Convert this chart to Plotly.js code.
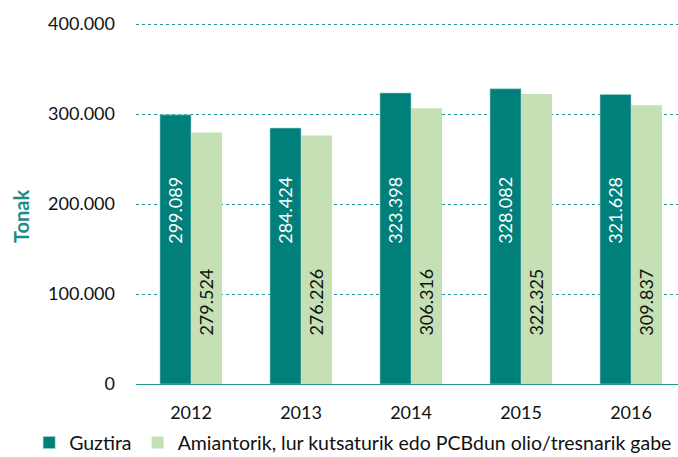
<!DOCTYPE html>
<html>
<head>
<meta charset="utf-8">
<script src="https://cdn.plot.ly/plotly-3.0.1.min.js"></script>
<style>html,body{margin:0;padding:0;background:#fff;}#chart{width:678px;height:457px;}</style>
</head>
<body>
<div id="chart"></div>
<script>
var years = ['2012', '2013', '2014', '2015', '2016'];
var guztira = [299089, 284424, 323398, 328082, 321628];
var gabe = [279524, 276226, 306316, 322325, 309837];
var seriesNames = ['Guztira', 'Amiantorik, lur kutsaturik edo PCBdun olio/tresnarik gabe'];
var yTicks = [0, 100000, 200000, 300000, 400000];
var yTitle = 'Tonak';

var TEAL = '#007f7b';
var LIGHT = '#c5e0b4';
var FONT = 'Lato, "Open Sans", sans-serif';

function fmt(n) { return String(n).replace(/\B(?=(\d{3})+(?!\d))/g, '.'); }

var traces = [
  {type: 'bar', name: seriesNames[0], x: years, y: guztira, legend: 'legend',
   marker: {color: TEAL, line: {color: '#9fd3d0', width: 0.6}}, hoverinfo: 'none'},
  {type: 'bar', name: seriesNames[1], x: years, y: gabe, legend: 'legend2',
   marker: {color: LIGHT, line: {width: 0}}, hoverinfo: 'none'}
];

var annotations = [];
years.forEach(function (yr, i) {
  annotations.push({x: i, y: 193000, xref: 'x', yref: 'y', xshift: -15.5,
    text: fmt(guztira[i]), textangle: -90, showarrow: false,
    xanchor: 'center', yanchor: 'middle',
    font: {family: FONT, size: 18, color: '#ffffff'}});
  annotations.push({x: i, y: 91000, xref: 'x', yref: 'y', xshift: 15.5,
    text: fmt(gabe[i]), textangle: -90, showarrow: false,
    xanchor: 'center', yanchor: 'middle',
    font: {family: FONT, size: 18, color: '#111111'}});
});
annotations.push({x: 0, xref: 'paper', xshift: -115, y: 0.4625, yref: 'paper',
  text: '<b>' + yTitle + '</b>', textangle: -90, showarrow: false,
  xanchor: 'center', yanchor: 'middle',
  font: {family: FONT, size: 20, color: '#1a8c88'}});

var legendBase = {orientation: 'h', xref: 'container', yref: 'container',
  xanchor: 'left', y: 0.031, yanchor: 'middle',
  font: {family: FONT, size: 19.5, color: '#111111'},
  itemwidth: 30, bgcolor: 'rgba(0,0,0,0)'};

var layout = {
  width: 678, height: 457,
  margin: {l: 136, r: 0, t: 21, b: 73, pad: 0, autoexpand: false},
  paper_bgcolor: '#ffffff', plot_bgcolor: '#ffffff',
  separators: ',.',
  font: {family: FONT, size: 18, color: '#111111'},
  barmode: 'group', bargap: 0.436, bargroupgap: 0,
  showlegend: true,
  legend: Object.assign({}, legendBase, {x: 0.043}),
  legend2: Object.assign({}, legendBase, {x: 0.203}),
  xaxis: {type: 'category', range: [-0.5, 4.427], showgrid: false, zeroline: false,
    showline: false, ticks: '', ticklen: 0, ticklabelstandoff: 16,
    tickfont: {family: FONT, size: 18, color: '#111111'},
    fixedrange: true},
  yaxis: {range: [0, 403333], tickvals: yTicks, ticktext: yTicks.map(fmt),
    showgrid: true, gridcolor: '#1f9590', griddash: 'dot', gridwidth: 1,
    zeroline: true, zerolinecolor: '#1f9590', zerolinewidth: 1,
    showline: false, ticks: '', ticklabelstandoff: 20,
    tickfont: {family: FONT, size: 18, color: '#111111'},
    fixedrange: true},
  annotations: annotations
};

Plotly.newPlot('chart', traces, layout, {displayModeBar: false, staticPlot: true});
</script>
</body>
</html>
